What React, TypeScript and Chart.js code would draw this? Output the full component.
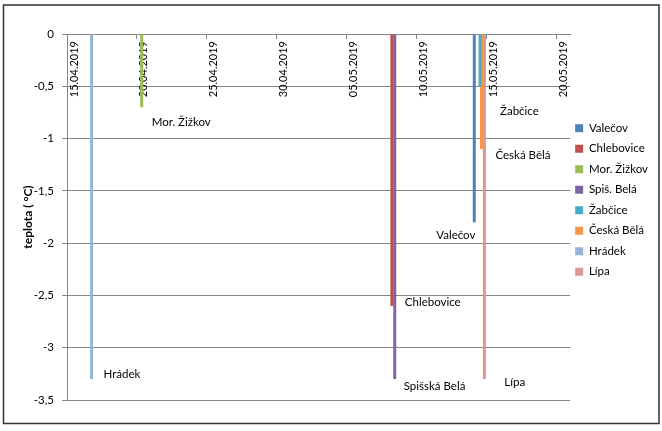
import { useEffect, useRef } from 'react';
import { Chart, registerables } from 'chart.js';

Chart.register(...registerables);

// Category days (x axis) – one per day, 15.04.2019 – 20.05.2019
const dayLabels = [
  '15.04.2019', '16.04.2019', '17.04.2019', '18.04.2019', '19.04.2019', '20.04.2019',
  '21.04.2019', '22.04.2019', '23.04.2019', '24.04.2019', '25.04.2019', '26.04.2019',
  '27.04.2019', '28.04.2019', '29.04.2019', '30.04.2019', '01.05.2019', '02.05.2019',
  '03.05.2019', '04.05.2019', '05.05.2019', '06.05.2019', '07.05.2019', '08.05.2019',
  '09.05.2019', '10.05.2019', '11.05.2019', '12.05.2019', '13.05.2019', '14.05.2019',
  '15.05.2019', '16.05.2019', '17.05.2019', '18.05.2019', '19.05.2019', '20.05.2019',
];

// Series
const stations = ['Valečov', 'Chlebovice', 'Mor. Žižkov', 'Spiš. Belá', 'Žabčice', 'Česká Bělá', 'Hrádek', 'Lípa'];
const pointLabels = ['Valečov', 'Chlebovice', 'Mor. Žižkov', 'Spišská Belá', 'Žabčice', 'Česká Bělá', 'Hrádek', 'Lípa'];
const stationDates = ['14.05.2019', '08.05.2019', '20.04.2019', '08.05.2019', '14.05.2019', '14.05.2019', '16.04.2019', '14.05.2019'];
const stationValues = [-1.8, -2.6, -0.7, -3.3, -0.5, -1.1, -3.3, -3.3];

// Styles
const colors = ['#4F81BD', '#C0504D', '#9BBB59', '#8064A2', '#4BACC6', '#F79646', '#95B3D7', '#D99694'];
const labelOffsets: [number, number][] = [[-38, 13], [13, -4], [10, 15], [9, 7], [20, 25], [14, 6], [12, -5], [20, 3]];
const FONT = 'Lato';
const FONT_SIZE = 11.5;
const GRID = '#868686';

const framePlugin = {
  id: 'frame',
  beforeDraw(chart: any) {
    const ctx = chart.ctx;
    ctx.save();
    ctx.fillStyle = '#ffffff';
    ctx.fillRect(0, 0, chart.width, chart.height);
    ctx.strokeStyle = '#333333';
    ctx.lineWidth = 1.5;
    ctx.strokeRect(3.5, 5, 655.5, 418.5);
    ctx.restore();
  },
};

const legendShiftPlugin = {
  id: 'legendShift',
  afterLayout(chart: any) {
    const l = chart.legend;
    if (!l) return;
    l.top -= 17;
    l.bottom -= 17;
    l.left -= 4;
    l.right -= 4;
  },
};

const stationLabelPlugin = {
  id: 'stationLabels',
  afterDatasetsDraw(chart: any) {
    const ctx = chart.ctx;
    ctx.save();
    ctx.font = `${FONT_SIZE}px ${FONT}`;
    ctx.fillStyle = '#000';
    ctx.textBaseline = 'middle';
    ctx.textAlign = 'left';
    chart.data.datasets.forEach((_ds: any, i: number) => {
      const meta = chart.getDatasetMeta(i);
      const idx = dayLabels.indexOf(stationDates[i]);
      const el = meta.data[idx];
      if (!el) return;
      const [dx, dy] = labelOffsets[i];
      ctx.fillText(pointLabels[i], el.x + dx, el.y + dy);
    });
    ctx.restore();
  },
};

export default function App() {
  const ref = useRef<HTMLCanvasElement | null>(null);

  useEffect(() => {
    if (!ref.current) return;
    const datasets = stations.map((name, i) => ({
      label: name,
      data: dayLabels.map((d) => (d === stationDates[i] ? stationValues[i] : null)),
      backgroundColor: colors[i],
      borderWidth: 0,
      categoryPercentage: 0.825,
      barPercentage: 2.07,
    }));

    const chart = new Chart(ref.current, {
      type: 'bar',
      data: { labels: dayLabels, datasets },
      options: {
        animation: false,
        responsive: true,
        maintainAspectRatio: false,
        layout: { padding: { left: 21, top: 34, right: 0, bottom: 31 } },
        plugins: {
          tooltip: { enabled: false },
          legend: {
            position: 'right',
            align: 'center',
            labels: {
              boxWidth: 8,
              boxHeight: 8,
              padding: 9,
              color: '#000',
              font: { family: FONT, size: FONT_SIZE },
            },
          },
        },
        scales: {
          x: {
            type: 'category',
            position: { y: 0 } as any,
            offset: true,
            grid: {
              offset: true,
              drawOnChartArea: false,
              drawTicks: true,
              tickLength: 4,
              tickColor: (c: any) => (c.index % 5 === 0 ? GRID : 'rgba(0,0,0,0)'),
            },
            border: { display: true, color: GRID },
            ticks: {
              autoSkip: false,
              minRotation: 90,
              maxRotation: 90,
              padding: 3,
              color: '#000',
              font: { family: FONT, size: 11 },
              callback: (_v: any, i: number) => (i % 5 === 0 ? dayLabels[i] : ''),
            },
            afterFit: (s: any) => {
              s.height = 0;
            },
          },
          y: {
            min: -3.5,
            max: 0,
            ticks: {
              stepSize: 0.5,
              padding: 8,
              color: '#000',
              font: { family: FONT, size: FONT_SIZE },
              callback: (v: any) => String(v).replace('.', ','),
            },
            grid: { color: GRID, tickLength: 5, drawTicks: true },
            border: { display: true, color: GRID },
            title: {
              display: true,
              text: 'teplota ( °C)',
              color: '#000',
              font: { family: FONT, size: 12, weight: 'bold' },
              padding: 0,
            },
            afterFit: (s: any) => {
              s.width = 46;
            },
          },
        },
      },
      plugins: [framePlugin, legendShiftPlugin, stationLabelPlugin],
    } as any);

    return () => chart.destroy();
  }, []);

  return (
    <div style={{ position: 'fixed', left: 0, top: 0, width: 662, height: 431, background: '#fff' }}>
      <canvas ref={ref} />
    </div>
  );
}
